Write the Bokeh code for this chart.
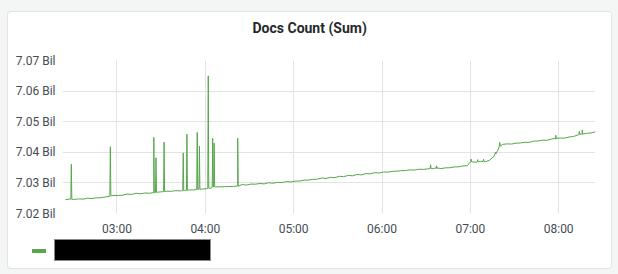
import pandas as pd
from bokeh.plotting import figure
from bokeh.models import (Range1d, FixedTicker, PrintfTickFormatter,
                          DatetimeTickFormatter, Div, ColumnDataSource, Title)
from bokeh.layouts import column
from bokeh.embed import file_html
from bokeh.resources import INLINE

DAY = "2021-03-01 "
chart_title = "Docs Count (Sum)"
x_start, x_end = "02:23", "08:25"
x_tick_labels = ["03:00", "04:00", "05:00", "06:00", "07:00", "08:00"]
y_ticks = [7.02, 7.03, 7.04, 7.05, 7.06, 7.07]

# baseline samples every 3 minutes starting 02:25 (values in billions)
base_start = "02:25"
base_step_min = 3
base_values = [
    7.02450, 7.02472, 7.02460, 7.02478, 7.02470, 7.02498, 7.02490, 7.02512,
    7.02515, 7.02540, 7.02560, 7.02590, 7.02590, 7.02600, 7.02635, 7.02622,
    7.02660, 7.02642, 7.02670, 7.02662, 7.02680, 7.02700, 7.02712, 7.02730,
    7.02725, 7.02748, 7.02738, 7.02750, 7.02770, 7.02772, 7.02790, 7.02800,
    7.02812, 7.02830, 7.02870, 7.02870, 7.02878, 7.02880, 7.02885, 7.02900,
    7.02945, 7.02930, 7.02962, 7.02958, 7.02980, 7.02968, 7.03005, 7.02990,
    7.03018, 7.03010, 7.03042, 7.03032, 7.03058, 7.03062, 7.03090, 7.03092,
    7.03115, 7.03122, 7.03160, 7.03145, 7.03182, 7.03172, 7.03215, 7.03205,
    7.03245, 7.03232, 7.03275, 7.03262, 7.03305, 7.03295, 7.03335, 7.03322,
    7.03355, 7.03352, 7.03378, 7.03382, 7.03400, 7.03405, 7.03425, 7.03420,
    7.03448, 7.03442, 7.03458, 7.03462, 7.03470, 7.03468, 7.03492, 7.03495,
    7.03520, 7.03525, 7.03555, 7.03565, 7.03690, 7.03675, 7.03705, 7.03688,
    7.03740, 7.03870, 7.04100, 7.04260, 7.04275, 7.04270, 7.04298, 7.04305,
    7.04328, 7.04325, 7.04365, 7.04368, 7.04398, 7.04392, 7.04430, 7.04425,
    7.04465, 7.04462, 7.04500, 7.04515, 7.04565, 7.04590, 7.04618, 7.04632,
    7.04670,
]

# short spikes: time, level before/after, peak
spike_times = ["02:29:00", "02:55:30", "03:25:00", "03:26:30", "03:32:00",
               "03:45:00", "03:47:30", "03:54:30", "03:56:00", "04:02:00",
               "04:05:00", "04:06:00", "04:22:00", "06:33:00", "06:37:00",
               "07:00:30", "07:05:00", "07:09:00", "07:17:00", "07:20:00",
               "07:58:00", "08:14:00", "08:16:00"]
spike_base = [7.02465, 7.02575, 7.02680, 7.02690, 7.02715,
              7.02750, 7.02760, 7.02785, 7.02790, 7.02825,
              7.02865, 7.02870, 7.02895, 7.03468, 7.03490,
              7.03690, 7.03690, 7.03700, 7.03950, 7.04200,
              7.04460, 7.04580, 7.04600]
spike_peak = [7.0361, 7.0418, 7.0449, 7.0382, 7.0433,
              7.0398, 7.0459, 7.0465, 7.0420, 7.0650,
              7.0446, 7.0430, 7.0446, 7.0359, 7.0356,
              7.0378, 7.0376, 7.0377, 7.0400, 7.0432,
              7.0456, 7.0468, 7.0473]

series_color = "#56a64b"
text_color = "#464c54"

# ---- assemble the series ----
t0 = pd.Timestamp(DAY + base_start)
pts = [(t0 + pd.Timedelta(minutes=base_step_min * i), v) for i, v in enumerate(base_values)]
half = pd.Timedelta(seconds=20)
for ts, b, pk in zip(spike_times, spike_base, spike_peak):
    t = pd.Timestamp(DAY + ts)
    pts += [(t - half, b), (t, pk), (t + half, b)]
pts.sort(key=lambda q: q[0])
src = ColumnDataSource(dict(t=[q[0] for q in pts], v=[q[1] for q in pts]))

x_ticks = [pd.Timestamp(DAY + s).value / 1e6 for s in x_tick_labels]

p = figure(width=603, height=226, x_axis_type="datetime",
           output_backend="svg", toolbar_location=None,
           x_range=Range1d(pd.Timestamp(DAY + x_start), pd.Timestamp(DAY + x_end)),
           y_range=Range1d(7.02, 7.07),
           min_border_left=54, min_border_right=16, min_border_top=48,
           min_border_bottom=21, background_fill_color="white",
           border_fill_color="white", outline_line_color=None)

# spacer between frame and title, then the title itself
p.add_layout(Title(text=" ", text_font_size="1px", standoff=22), "above")
p.add_layout(Title(text=chart_title, align="left", offset=190, standoff=0,
                   text_font="Roboto", text_font_size="14px",
                   text_font_style="bold", text_color="#26282b"), "above")

p.line("t", "v", source=src, line_color=series_color, line_width=1)

p.xaxis.ticker = FixedTicker(ticks=x_ticks)
p.xaxis.formatter = DatetimeTickFormatter(hours="%H:%M", minutes="%H:%M",
                                          hourmin="%H:%M", days="%H:%M")
p.yaxis.ticker = FixedTicker(ticks=y_ticks)
p.yaxis.formatter = PrintfTickFormatter(format="%.2f Bil")
for ax in (p.xaxis, p.yaxis):
    ax.axis_line_color = None
    ax.major_tick_line_color = None
    ax.minor_tick_line_color = None
    ax.major_tick_out = 0
    ax.major_tick_in = 0
    ax.major_label_text_font = "Roboto"
    ax.major_label_text_font_size = "12px"
    ax.major_label_text_color = text_color
p.yaxis.major_label_standoff = 7
p.xaxis.major_label_standoff = 8
p.xgrid.ticker = FixedTicker(ticks=x_ticks)
p.ygrid.ticker = FixedTicker(ticks=y_ticks)
p.grid.grid_line_color = "#e3e3e3"
p.grid.grid_line_width = 1

legend_div = Div(text=(
    '<div style="position:relative;width:603px;height:30px;">'
    f'<div style="position:absolute;left:24px;top:11px;width:14px;height:4px;background:{series_color};"></div>'
    '<div style="position:absolute;left:46px;top:1px;width:157px;height:22px;'
    'background:#000;border:1px solid #8a8a8a;box-sizing:border-box;"></div>'
    '</div>'), width=603, height=30, margin=(0, 0, 0, 0))

inner = column(p, legend_div, margin=(12, 7, 6, 8), spacing=0,
               styles={"background-color": "white",
                       "box-shadow": "0 0 0 1px #e2e4e6",
                       "border-radius": "3px"})
outer = column(inner, width=618, height=274, sizing_mode="fixed",
               styles={"background-color": "#f4f5f5"})

open("out.html", "w").write(file_html(outer, INLINE))
